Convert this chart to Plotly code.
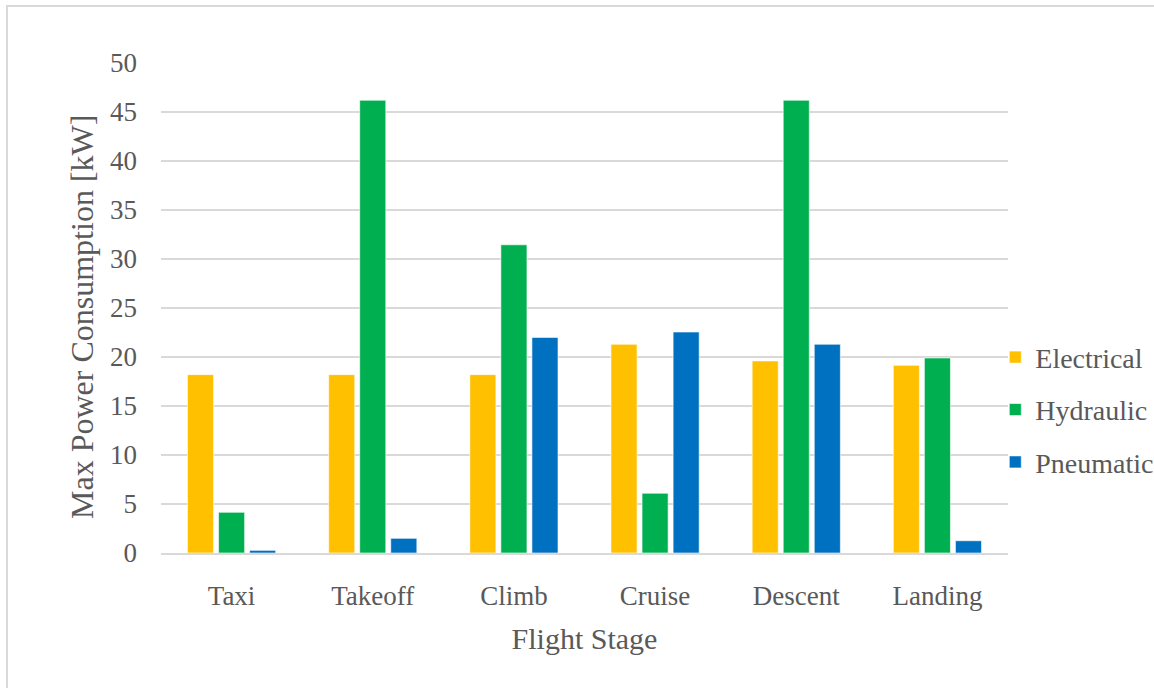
import plotly.graph_objects as go

stages = ["Taxi", "Takeoff", "Climb", "Cruise", "Descent", "Landing"]
electrical = [18.2, 18.2, 18.2, 21.3, 19.6, 19.15]
hydraulic = [4.15, 46.2, 31.45, 6.1, 46.2, 19.9]
pneumatic = [0.27, 1.5, 22.0, 22.55, 21.3, 1.25]
y_ticks = [0, 5, 10, 15, 20, 25, 30, 35, 40, 45, 50]

W, H = 1154, 688
ML, MR, MT, MB = 161, 146, 63, 135
PW, PH = W - ML - MR, H - MT - MB
TXT = "#595959"
FONT = "Liberation Serif"

fig = go.Figure()
for name, vals, col in [("Electrical", electrical, "#FFC000"),
                        ("Hydraulic", hydraulic, "#00B050"),
                        ("Pneumatic", pneumatic, "#0070C0")]:
    fig.add_trace(go.Bar(x=stages, y=vals, name=name, legendgroup=name,
                         marker=dict(color=col, line=dict(color="rgba(255,255,255,0.6)", width=1))))

# faint outer chart border (top and left edges visible)
bx0 = (7 - ML) / PW
by1 = 1 + (MT - 6) / PH
by0 = -(H + 10 - MT - PH) / PH
bx1 = 1 + (MR + 10) / PW
fig.add_shape(type="rect", xref="paper", yref="paper", x0=bx0, x1=bx1, y0=by0, y1=by1,
              line=dict(color="#d9d9d9", width=2), layer="below")

# y-axis title as annotation for precise placement
fig.add_annotation(text="Max Power Consumption [kW]", textangle=-90,
                   xref="paper", yref="paper", x=(82 - ML) / PW, y=(H - MB - 317) / PH,
                   xanchor="center", yanchor="middle", showarrow=False,
                   font=dict(family=FONT, size=32, color=TXT))

fig.update_layout(
    width=W, height=H,
    margin=dict(l=ML, r=MR, t=MT, b=MB, autoexpand=False),
    paper_bgcolor="white", plot_bgcolor="white",
    barmode="group", bargap=0.34, bargroupgap=0.16,
    font=dict(family=FONT, color=TXT, size=24),
    showlegend=True,
    legend=dict(x=0.985, xanchor="left", y=0.292, yanchor="middle",
                font=dict(family=FONT, size=28, color=TXT), tracegroupgap=13,
                itemwidth=30, bgcolor="rgba(0,0,0,0)"),
    xaxis=dict(showgrid=False, showline=True, linecolor="#d9d9d9", linewidth=2,
               ticks="", tickfont=dict(family=FONT, size=27, color=TXT), ticklabelstandoff=18,
               title=dict(text="Flight Stage", font=dict(family=FONT, size=30, color=TXT), standoff=18)),
    yaxis=dict(range=[0, 50], tickvals=y_ticks, showgrid=True, gridcolor="#d9d9d9", gridwidth=2,
               zeroline=False, showline=False, ticks="", ticklabelstandoff=23,
               tickfont=dict(family=FONT, size=27, color=TXT)),
)

fig.write_html("out.html")
